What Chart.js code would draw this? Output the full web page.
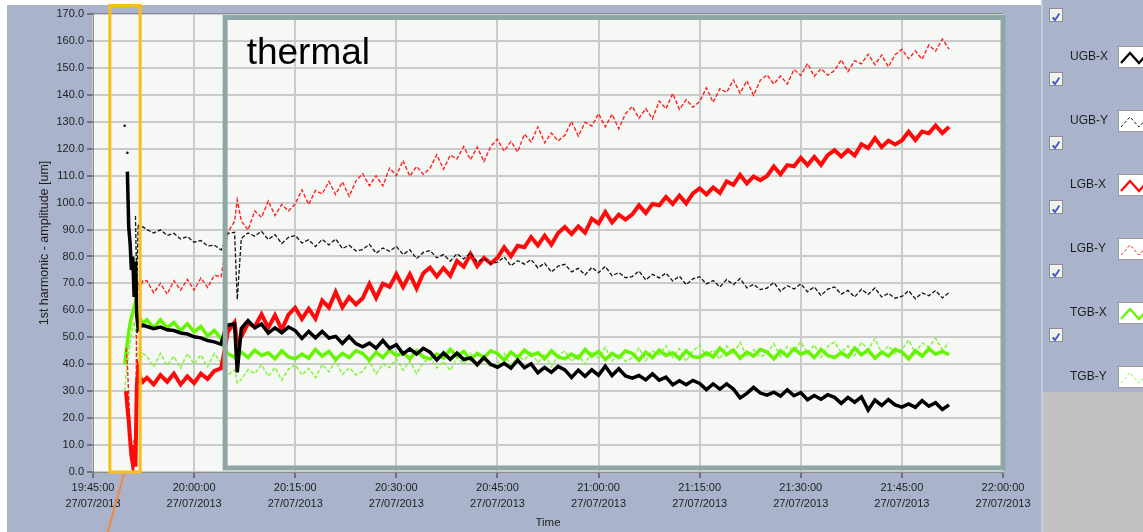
<!DOCTYPE html>
<html lang="en">
<head>
<meta charset="UTF-8">
<title>1st harmonic - amplitude</title>
<script src="https://cdn.jsdelivr.net/npm/chart.js"></script>
<style>
    body { margin: 0; padding: 0; background: #a9b3cb; font-family: "Liberation Sans", Arial, sans-serif; }
    .frame { position: relative; width: 1143px; height: 532px; overflow: hidden; background: #a9b3cb; }
    .edge-top { position: absolute; left: 0; top: 0; width: 1041px; height: 5px; background: #fff; }
    .edge-left { position: absolute; left: 0; top: 0; width: 7px; height: 532px; background: #fff; }
    canvas { position: absolute; left: 0; top: 0; }
    .legend { position: absolute; left: 1041px; top: 0; width: 102px; height: 532px; border-left: 2px solid #c5cbd8; }
    .legend .foot { position: absolute; left: 0; right: 0; top: 392px; bottom: 0; background: #c2c2c2; }
    .cb { position: absolute; left: 6px; width: 12px; height: 12px; background: #f2f2f2; border: 1px solid #8d8d8d; }
    .lab { position: absolute; left: 27px; font-size: 12px; color: #1e1e1e; line-height: 14px; }
    .sw { position: absolute; left: 75px; width: 40px; height: 20px; background: #fff; border: 1px solid #9a9a9a; }
</style>
</head>
<body>
<div class="frame">
    <div class="edge-top"></div>
    <div class="edge-left"></div>
    <canvas id="chart" width="1143" height="532"></canvas>
    <div class="legend" id="legend"><div class="foot"></div></div>
</div>
<script>
// minutes after 19:45:00 on 27/07/2013
const minutes = [
    4.7, 4.9, 5.1, 5.3, 5.5, 5.7, 5.9, 6.1, 6.3, 6.5, 6.7, 7.0, 7.4,
    8, 9, 10, 11, 12, 13, 14, 15, 16, 17, 18, 19, 19.5,
    20, 21, 21.4,
    22, 23, 24, 25, 26, 27, 28, 29,
    30, 31, 32, 33, 34, 35, 36, 37, 38, 39,
    40, 41, 42, 43, 44, 45, 46, 47, 48, 49,
    50, 51, 52, 53, 54, 55, 56, 57, 58, 59,
    60, 61, 62, 63, 64, 65, 66, 67, 68, 69,
    70, 71, 72, 73, 74, 75, 76, 77, 78, 79,
    80, 81, 82, 83, 84, 85, 86, 87, 88, 89,
    90, 91, 92, 93, 94, 95, 96, 97, 98, 99,
    100, 101, 102, 103, 104, 105, 106, 107, 108, 109,
    110, 111, 112, 113, 114, 115, 116, 117, 118, 119,
    120, 121, 122, 123, 124, 125, 126, 127
];

const ugbX = [
    null, null, 111.5, 91, 85, 75, 80, 65, 78, 58, 53, 54, 54.5,
    54, 53.2, 53.8, 52.8, 52.5, 51.6, 51.2, 50.2, 49.8, 48.8, 48.3, 47.4, 52,
    54.5, 55, 37,
    53.25, 56.2, 53.5, 54.95, 51.55, 53.5, 51.7, 53.8,
    52.5, 49.6, 52.2, 49.8, 52.15, 49.75, 50.35, 47.7, 50.3, 47.65,
    46.5, 47.85, 45.95, 48.8, 45.9, 47.25, 43.85, 45.7, 43.8, 45.9,
    44.5, 41.6, 44.2, 41.8, 44.15, 41.75, 42.35, 39.8, 42.5, 39.95,
    38.9, 40.35, 38.55, 41.5, 38.7, 40.15, 36.85, 38.8, 37, 39.2,
    37.9, 35.1, 37.8, 35.5, 37.95, 35.95, 39.25, 35.8, 38.3, 35.65,
    34.8, 35.8, 34.2, 36.4, 34.1, 35.2, 32.4, 33.9, 32.4, 34,
    32.9, 30.6, 32.7, 30.8, 32.7, 30.8, 27.5, 29.2, 31.4, 29.3,
    28.5, 29.6, 28.2, 30.5, 28.3, 29.5, 26.8, 28.4, 27, 28.7,
    27.7, 25.5, 27.7, 25.9, 27.9, 23, 26.7, 24.7, 26.9, 24.9,
    24.1, 25.3, 24, 26.5, 24.4, 25.7, 23.2, 24.9
];

const ugbY = [
    128.5, null, 118.5, null, null, null, null, null, 95, 68, 92, 90.5, 91,
    90, 88.7, 89.9, 87.8, 88.6, 86.5, 87.4, 85.3, 85.9, 83.9, 84.2, 82.4, 85,
    88.5, 89, 64,
    86.7, 88.75, 87.55, 89.35, 86.3, 88.1, 84.8, 87.1,
    87.8, 85, 86.2, 83.65, 86.35, 84.3, 86.5, 82.95, 84.15, 82.1,
    82.55, 84.5, 81.2, 83.15, 81.95, 83.75, 80.7, 82.5, 79.2, 81.5,
    82.2, 79.5, 80.7, 78.25, 81.05, 79.1, 81.4, 77.95, 79.25, 77.3,
    77.85, 79.8, 76.5, 78.45, 77.15, 78.85, 75.8, 77.5, 74.2, 76.4,
    77.1, 74.3, 75.6, 73.15, 75.95, 74, 76.3, 72.85, 74.05, 72.1,
    72.55, 74.6, 71.3, 73.35, 72.05, 73.85, 70.9, 72.7, 69.5, 71.7,
    72.5, 69.8, 71.1, 68.65, 71.45, 69.5, 71.8, 68.35, 69.65, 67.7,
    68.25, 70.3, 67.1, 69.15, 67.95, 69.85, 66.9, 68.7, 65.5, 67.9,
    68.7, 66, 67.4, 64.95, 67.85, 65.9, 68.3, 64.95, 66.35, 64.5,
    65.15, 67.3, 64.3, 66.45, 65.45, 67.35, 64.6, 66.6
];

const lgbX = [
    null, 30, 24, 19, 12, 6, 3, 10, 2, 32, 38, 35, 33.5,
    35, 32.5, 36, 33.5, 36.5, 32.5, 35.5, 33, 36.5, 34.5, 37.5, 38.5, 45,
    52, 55.5, 48,
    50.2, 55.3, 53.9, 58.5, 53.6, 58.2, 52.8, 58.4,
    61, 56.8, 60.6, 56.9, 63.7, 61, 66.8, 61.1, 64.9, 62.2,
    64.5, 69.8, 64.6, 69.9, 68.7, 73.5, 68.7, 73.4, 68.1, 73.8,
    75.9, 72.6, 75.7, 72.8, 78.3, 76.2, 80.9, 76.4, 79.5, 77.4,
    79.5, 83.4, 80.1, 84, 83.4, 87.2, 84.1, 87.7, 84.4, 88.7,
    90.9, 88.3, 91.2, 88.8, 94, 92.3, 96.5, 92.6, 95.5, 93.7,
    95.6, 99, 96.1, 99.5, 99, 102.1, 99.5, 102.6, 99.7, 103.4,
    105.3, 103, 105.6, 103.6, 107.9, 106.6, 110.3, 107.1, 109.7, 108.3,
    109.9, 113.4, 110.5, 113.9, 113.5, 116.6, 113.9, 117, 114, 117.6,
    119.5, 117.1, 119.5, 117.5, 121.7, 120.2, 123.9, 120.6, 123, 121.6,
    123.1, 126.3, 123.2, 126.4, 125.7, 128.6, 125.8, 128.1
];

const lgbY = [
    null, 46, 40, 28, 16, 9, 5, 12, 8, 60, 70, 68, 71,
    71, 66.5, 70, 66, 71, 67.5, 71.5, 67.5, 72, 68.5, 73, 72.5, 80,
    89, 93, 101,
    93.2, 89.8, 96.9, 94.5, 100.6, 95.2, 99.3, 96.9,
    99.5, 104.7, 99.3, 104.5, 103.2, 107.8, 103, 107.7, 102.3, 108,
    110.7, 106.3, 110, 106.2, 112.8, 110, 115.6, 109.8, 113.4, 110.5,
    112.7, 117.8, 112.4, 117.6, 116.2, 120.8, 115.9, 120.6, 115.2, 120.9,
    123.5, 119.1, 122.7, 118.8, 125.4, 122.5, 128.1, 122.2, 125.8, 122.9,
    125, 130.1, 124.7, 129.8, 128.4, 133, 128.1, 132.8, 127.4, 133,
    135.7, 131.3, 134.9, 131.1, 137.7, 134.8, 140.5, 134.6, 138.2, 135.4,
    137.5, 142.6, 137.2, 142.3, 140.9, 145.5, 140.6, 145.2, 139.8, 145.4,
    147.4, 144, 147, 144, 149.4, 147.2, 151.6, 146.9, 149.7, 147.3,
    149, 153, 148.6, 152.7, 151.5, 155.1, 151.2, 154.8, 150.4, 154.9,
    156.9, 153.4, 156.3, 153.2, 158.5, 156.2, 160.7, 157
];

const tgbX = [
    40, 44, 48, 52, 55, 57.5, 59, 61, 63, 58, 56, 57, 55,
    56.5, 53.5, 56.5, 53.5, 55.5, 52.5, 55, 52, 54, 50.5, 52.5, 49.5, 46,
    44, 42.5, 44,
    44.5, 42.5, 45.25, 43.25, 44.25, 42, 45, 42.75,
    42, 43.75, 42.25, 45.5, 43, 44.75, 41.75, 44, 42.5, 45,
    44, 41.5, 44.5, 42.5, 45.25, 43.25, 44.25, 42, 45, 42.75,
    42, 43.75, 42.25, 45.5, 43, 44.75, 41.75, 44, 42.5, 45,
    44, 41.5, 44.5, 42.5, 45.25, 43.25, 44.25, 42, 45, 42.75,
    42, 43.75, 42.25, 45.5, 43, 44.75, 41.75, 44, 42.5, 45,
    44, 41.5, 44.5, 42.5, 45.25, 43.25, 44.25, 42, 45, 42.75,
    42.5, 44.25, 42.75, 46, 43.5, 45.25, 42.25, 44.5, 43, 45.5,
    44.5, 42, 45, 43, 45.75, 43.75, 44.75, 42.5, 45.5, 43.25,
    42.5, 44.25, 42.75, 46, 43.5, 45.25, 42.25, 44.5, 43, 45.5,
    44.5, 42, 45, 43, 45.75, 43.75, 44.75, 43.5
];

const tgbY = [
    30, 36, 40, 44, 48, 51, 54, 56, 52, 46, 43, 41, 44,
    43, 39, 44, 39.5, 43, 38.5, 44, 40, 43.5, 39, 44, 40.5, 38,
    36, 38, 33,
    34.3, 38, 36.5, 39.8, 35.5, 38.8, 34.1, 38.2,
    39.9, 36, 38.5, 35, 39.9, 37.2, 41.3, 36.2, 38.7, 36,
    37.3, 41.05, 36.4, 40.15, 38.7, 42.05, 37.8, 41.15, 36.5, 40.65,
    42.4, 38.55, 41.1, 37.65, 42.6, 39.95, 44.1, 39.05, 41.6, 38.95,
    40.3, 44, 39.3, 43, 41.5, 44.8, 40.5, 43.8, 39.1, 43.2,
    44.9, 41, 43.5, 40, 44.9, 42.2, 46.3, 41.2, 43.7, 41,
    42.3, 46, 41.3, 45, 43.5, 46.8, 42.5, 45.8, 41.1, 45.2,
    46.9, 43, 45.4, 41.9, 46.8, 44, 48.1, 43, 45.4, 42.7,
    44, 47.6, 42.9, 46.6, 45, 48.3, 44, 47.2, 42.5, 46.6,
    48.2, 44.3, 46.8, 43.2, 48.1, 45.4, 49.5, 44.3, 46.8, 44,
    45.3, 49, 44.2, 47.9, 46.4, 49.6, 45.3, 48
];

const seriesNames = ['UGB-X', 'UGB-Y', 'LGB-X', 'LGB-Y', 'TGB-X', 'TGB-Y'];
const xTickTimes = ['19:45:00', '20:00:00', '20:15:00', '20:30:00', '20:45:00',
                    '21:00:00', '21:15:00', '21:30:00', '21:45:00', '22:00:00'];
const xTickDate = '27/07/2013';

const styles = [
    { color: '#000000', width: 3.5, dash: [] },
    { color: '#111111', width: 1.3, dash: [4, 2] },
    { color: '#ff0a0a', width: 4, dash: [] },
    { color: '#ff2020', width: 1.4, dash: [4, 2] },
    { color: '#66f500', width: 3.5, dash: [] },
    { color: '#84f53c', width: 1.5, dash: [4, 2] }
];

function toPoints(values) {
    return minutes.map((m, i) => ({ x: m, y: values[i] }));
}

// a lone sample between gaps is drawn as a dot
function loneDot(ctx) {
    const d = ctx.dataset.data, i = ctx.dataIndex;
    if (!d[i] || d[i].y == null) return 0;
    const prev = i > 0 ? d[i - 1].y : null;
    const next = i < d.length - 1 ? d[i + 1].y : null;
    return (prev == null && next == null) ? 1.3 : 0;
}

const allSeries = [ugbX, ugbY, lgbX, lgbY, tgbX, tgbY];
const datasets = allSeries.map((vals, i) => ({
    label: seriesNames[i],
    data: toPoints(vals),
    borderColor: styles[i].color,
    backgroundColor: styles[i].color,
    borderWidth: styles[i].width,
    borderDash: styles[i].dash,
    pointRadius: loneDot,
    pointBorderWidth: 0,
    tension: 0,
    spanGaps: false
}));

const decor = {
    id: 'decor',
    beforeDraw(chart) {
        const { ctx, chartArea: a } = chart;
        ctx.save();
        ctx.fillStyle = '#f6f8f6';
        ctx.fillRect(a.left, a.top, a.right - a.left, a.bottom - a.top);
        ctx.restore();
    },
    afterDatasetsDraw(chart) {
        const { ctx, chartArea: a } = chart;
        const xs = chart.scales.x, ys = chart.scales.y;
        ctx.save();
        // frame top
        ctx.strokeStyle = '#8c8c8c';
        ctx.lineWidth = 1;
        ctx.beginPath();
        ctx.moveTo(a.left, a.top - 0.5);
        ctx.lineTo(a.right, a.top - 0.5);
        ctx.stroke();

        // thermal region box
        ctx.strokeStyle = '#8ea6a4';
        ctx.lineWidth = 5;
        const l = xs.getPixelForValue(19.6), r = xs.getPixelForValue(135);
        const t = ys.getPixelForValue(168.7), b = ys.getPixelForValue(1.5);
        ctx.strokeRect(l, t, r - l, b - t);
        ctx.fillStyle = '#000';
        ctx.font = '37px "Liberation Sans", Arial, sans-serif';
        ctx.textBaseline = 'alphabetic';
        ctx.fillText('thermal', xs.getPixelForValue(22.8), ys.getPixelForValue(151.3));

        // transient marker box
        ctx.strokeStyle = '#fbbd1c';
        ctx.lineWidth = 3;
        const ol = xs.getPixelForValue(2.5), orr = xs.getPixelForValue(7.0);
        const ot = 5.5, ob = ys.getPixelForValue(0);
        ctx.strokeRect(ol, ot, orr - ol, ob - ot);
        ctx.strokeStyle = '#f4893a';
        ctx.lineWidth = 2;
        ctx.beginPath();
        ctx.moveTo(xs.getPixelForValue(4.6), ob + 2);
        ctx.lineTo(xs.getPixelForValue(2.1), chart.height + 2);
        ctx.stroke();
        ctx.restore();
    }
};

new Chart(document.getElementById('chart'), {
    type: 'line',
    data: { datasets },
    options: {
        responsive: false,
        animation: false,
        events: [],
        layout: { padding: { left: 0, top: 14, right: 140, bottom: 0 } },
        plugins: { legend: { display: false }, tooltip: { enabled: false } },
        scales: {
            x: {
                type: 'linear',
                min: 0,
                max: 135,
                afterFit: s => { s.height = 60; },
                ticks: {
                    stepSize: 15,
                    maxRotation: 0,
                    autoSkip: false,
                    padding: 2,
                    color: '#1e1e1e',
                    font: { family: '"Liberation Sans", Arial', size: 11, lineHeight: 1.45 },
                    callback: (v, i) => [xTickTimes[i], xTickDate]
                },
                grid: { color: '#cbcbcb', lineWidth: 2, tickColor: '#333', tickLength: 6, tickWidth: 1 },
                border: { color: '#8c8c8c', width: 1 },
                title: {
                    display: true, text: 'Time', color: '#1e1e1e',
                    font: { family: '"Liberation Sans", Arial', size: 11.5, lineHeight: 1.2 },
                    padding: { top: 0, bottom: 2 }
                }
            },
            y: {
                min: 0,
                max: 170,
                afterFit: s => { s.width = 93; },
                ticks: {
                    stepSize: 10,
                    padding: 3,
                    color: '#1e1e1e',
                    font: { family: '"Liberation Sans", Arial', size: 11 },
                    callback: v => v.toFixed(1)
                },
                grid: { color: '#cbcbcb', lineWidth: 2, tickColor: '#333', tickLength: 6, tickWidth: 1 },
                border: { color: '#8c8c8c', width: 1 },
                title: {
                    display: true, text: '1st harmonic - amplitude [um]', color: '#1e1e1e',
                    font: { family: '"Liberation Sans", Arial', size: 12.5, lineHeight: 1.2 },
                    padding: { top: 37, bottom: 0 }
                }
            }
        }
    },
    plugins: [decor]
});

// legend panel with checkboxes
const legend = document.getElementById('legend');
seriesNames.forEach((name, i) => {
    const top = 8 + i * 64;
    const cb = document.createElement('div');
    cb.className = 'cb';
    cb.style.top = top + 'px';
    cb.innerHTML = '<svg width="12" height="12"><path d="M2.5 6.5 L5 9 L9.5 2.5" fill="none" stroke="#3558c8" stroke-width="1.8"/></svg>';
    legend.appendChild(cb);

    const lab = document.createElement('div');
    lab.className = 'lab';
    lab.style.top = (top + 41) + 'px';
    lab.textContent = name;
    legend.appendChild(lab);

    const sw = document.createElement('div');
    sw.className = 'sw';
    sw.style.top = (top + 38) + 'px';
    const st = styles[i];
    const dash = st.dash.length ? 'stroke-dasharray="3,2"' : '';
    const w = st.dash.length ? 1 : 2.2;
    sw.innerHTML = '<svg width="40" height="20"><polyline points="2,16 11,6 20,16 29,6 38,16" fill="none" stroke="' +
        st.color + '" stroke-width="' + w + '" ' + dash + '/></svg>';
    legend.appendChild(sw);
});
</script>
</body>
</html>
